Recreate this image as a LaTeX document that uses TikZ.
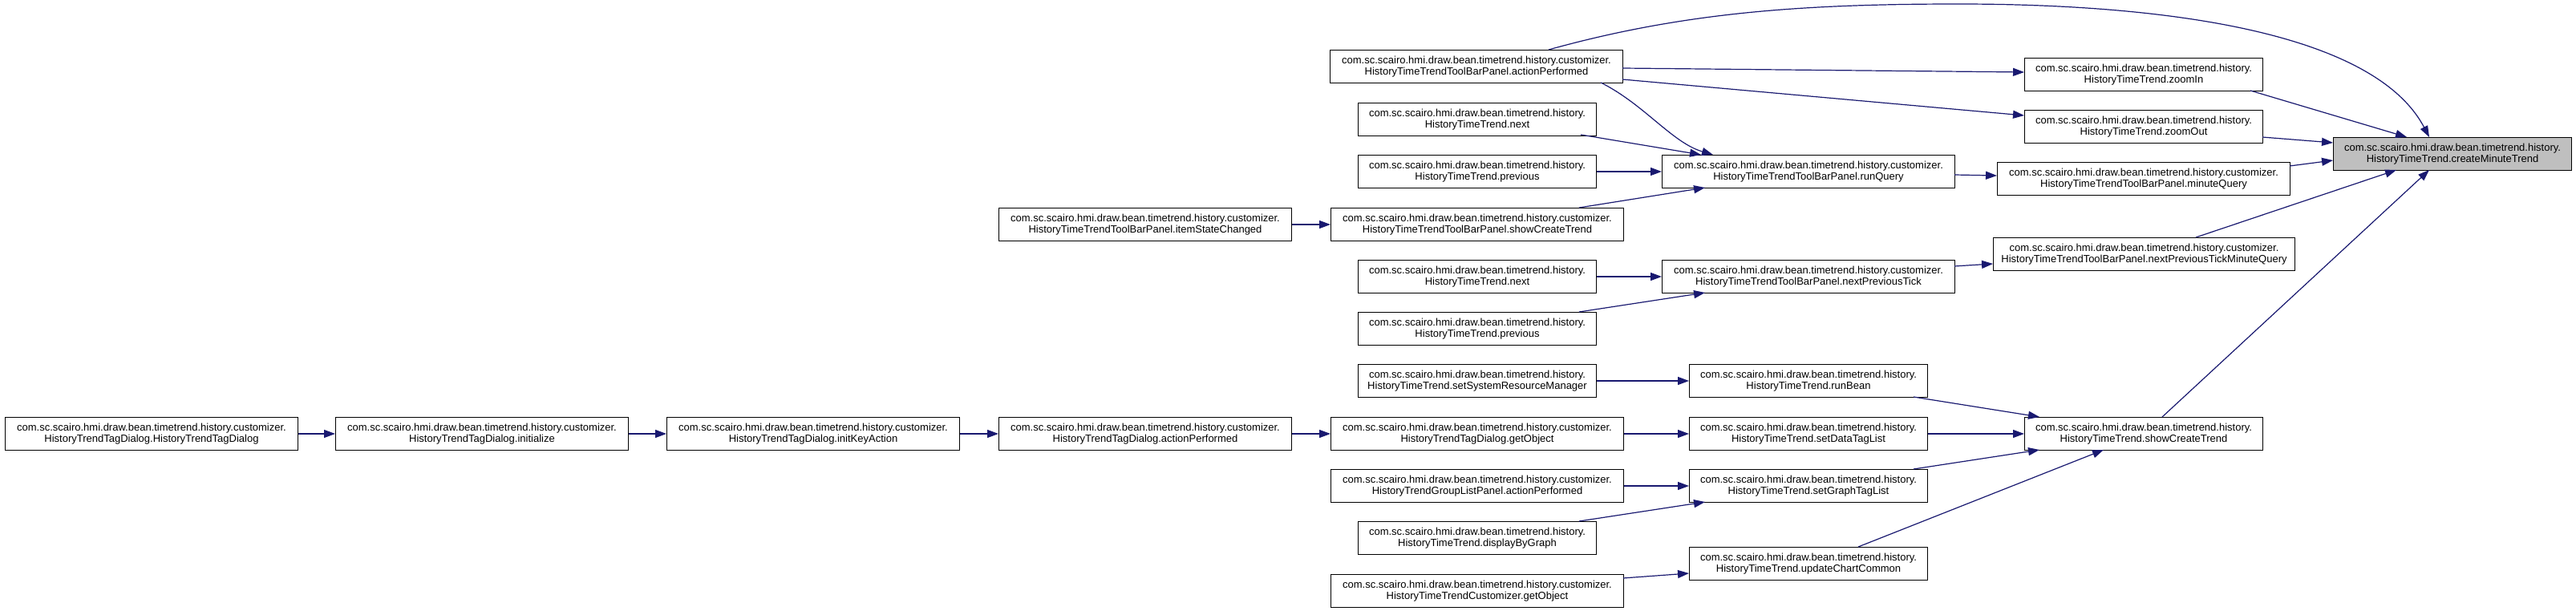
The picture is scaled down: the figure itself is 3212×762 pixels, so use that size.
\documentclass[tikz,border=0pt]{standalone}
\usepackage{fontspec}
\setmainfont{Liberation Sans}
\usetikzlibrary{arrows.meta,calc}
\definecolor{edgeblue}{HTML}{191970}
\definecolor{hlgrey}{HTML}{BFBFBF}
\newcommand\hpre{com.sc.scairo.hmi.draw.bean.timetrend.history.}
\newcommand\cpre{com.sc.scairo.hmi.draw.bean.timetrend.history.customizer.}
\begin{document}
\begin{tikzpicture}[x=1pt,y=-1pt,
  box/.style={draw=black, line width=1pt, fill=white, anchor=north west,
    minimum height=41pt, inner sep=0pt, align=center,
    font=\fontsize{13}{14}\selectfont},
  wa/.style={box, minimum width=297pt},
  wb/.style={box, minimum width=365pt},
  wc/.style={box, minimum width=376pt},
  edge/.style={draw=edgeblue, line width=1.2pt, -{Triangle[length=14pt,width=10pt]}}]
\useasboundingbox (0,0) rectangle (3212,762);
% nodes
\node[wa, fill=hlgrey] (cmt) at (2909,171) {\hpre\\HistoryTimeTrend.createMinuteTrend};
\node[wa] (zoomIn) at (2524,72) {\hpre\\HistoryTimeTrend.zoomIn};
\node[wa] (zoomOut) at (2524,137) {\hpre\\HistoryTimeTrend.zoomOut};
\node[wb] (minuteQuery) at (2490,202) {\cpre\\HistoryTimeTrendToolBarPanel.minuteQuery};
\node[wb] (tbpAct) at (1658,62) {\cpre\\HistoryTimeTrendToolBarPanel.actionPerformed};
\node[wa] (nextA) at (1693,128) {\hpre\\HistoryTimeTrend.next};
\node[wa] (prevA) at (1693,193) {\hpre\\HistoryTimeTrend.previous};
\node[wb] (runQuery) at (2072,193) {\cpre\\HistoryTimeTrendToolBarPanel.runQuery};
\node[wb] (showTBP) at (1659,259) {\cpre\\HistoryTimeTrendToolBarPanel.showCreateTrend};
\node[wb] (itemState) at (1245,259) {\cpre\\HistoryTimeTrendToolBarPanel.itemStateChanged};
\node[wc] (npTickMQ) at (2485,296) {\cpre\\HistoryTimeTrendToolBarPanel.nextPreviousTickMinuteQuery};
\node[wa] (nextB) at (1693,324) {\hpre\\HistoryTimeTrend.next};
\node[wb] (npTick) at (2072,324) {\cpre\\HistoryTimeTrendToolBarPanel.nextPreviousTick};
\node[wa] (prevB) at (1693,389) {\hpre\\HistoryTimeTrend.previous};
\node[wa] (setSys) at (1693,454) {\hpre\\HistoryTimeTrend.setSystemResourceManager};
\node[wa] (runBean) at (2106,454) {\hpre\\HistoryTimeTrend.runBean};
\node[wb] (getObjDlg) at (1659,520) {\cpre\\HistoryTrendTagDialog.getObject};
\node[wa] (setData) at (2106,520) {\hpre\\HistoryTimeTrend.setDataTagList};
\node[wa] (showHTT) at (2524,520) {\hpre\\HistoryTimeTrend.showCreateTrend};
\node[wb] (groupList) at (1659,585) {\cpre\\HistoryTrendGroupListPanel.actionPerformed};
\node[wa] (setGraph) at (2106,585) {\hpre\\HistoryTimeTrend.setGraphTagList};
\node[wa] (dispGraph) at (1693,650) {\hpre\\HistoryTimeTrend.displayByGraph};
\node[wa] (updChart) at (2106,682) {\hpre\\HistoryTimeTrend.updateChartCommon};
\node[wb] (custGet) at (1659,716) {\cpre\\HistoryTimeTrendCustomizer.getObject};
\node[wb] (ctor) at (6,520) {\cpre\\HistoryTrendTagDialog.HistoryTrendTagDialog};
\node[wb] (init) at (418,520) {\cpre\\HistoryTrendTagDialog.initialize};
\node[wb] (initKey) at (831,520) {\cpre\\HistoryTrendTagDialog.initKeyAction};
\node[wb] (actDlg) at (1245,520) {\cpre\\HistoryTrendTagDialog.actionPerformed};
% edges
\draw[edge] ($(tbpAct.north west)+(273,0)$) .. controls (2100,15) and (2250,5) .. (2442,5)
  .. controls (2700,5) and (2960,40) .. ($(cmt.north west)+(120,0)$);
\draw[edge] ($(tbpAct.north west)+(365,23)$) -- ($(zoomIn.north west)+(0,18)$);
\draw[edge] ($(tbpAct.north west)+(365,37)$) -- ($(zoomOut.north west)+(0,7)$);
\draw[edge] ($(tbpAct.north west)+(338,41)$) .. controls (2050,130) and (2085,178) .. ($(runQuery.north west)+(64,0)$);
\draw[edge] ($(nextA.north west)+(278,40)$) -- ($(runQuery.north west)+(49,0)$);
\draw[edge] (prevA.east) -- (runQuery.west);
\draw[edge] ($(showTBP.north west)+(310,0)$) -- ($(runQuery.north west)+(54,41)$);
\draw[edge] ($(zoomIn.north west)+(282,41)$) -- ($(cmt.north west)+(92,0)$);
\draw[edge] ($(zoomOut.north west)+(297,34)$) -- ($(cmt.north west)+(0,7)$);
\draw[edge] ($(runQuery.north west)+(365,25)$) -- ($(minuteQuery.north west)+(0,17)$);
\draw[edge] ($(minuteQuery.north west)+(365,5)$) -- ($(cmt.north west)+(0,29)$);
\draw[edge] ($(npTickMQ.north west)+(253,0)$) -- ($(cmt.north west)+(79,41)$);
\draw[edge] ($(showHTT.north west)+(172,0)$) -- ($(cmt.north west)+(120,41)$);
\draw[edge] (itemState.east) -- (showTBP.west);
\draw[edge] (nextB.east) -- (npTick.west);
\draw[edge] ($(prevB.north west)+(276,0)$) -- ($(npTick.north west)+(54,41)$);
\draw[edge] ($(npTick.north west)+(365,8)$) -- ($(npTickMQ.north west)+(0,33)$);
\draw[edge] (setSys.east) -- (runBean.west);
\draw[edge] ($(runBean.north west)+(280,41)$) -- ($(showHTT.north west)+(19,0)$);
\draw[edge] (getObjDlg.east) -- (setData.west);
\draw[edge] (setData.east) -- (showHTT.west);
\draw[edge] (groupList.east) -- (setGraph.west);
\draw[edge] ($(dispGraph.north west)+(276,0)$) -- ($(setGraph.north west)+(20,41)$);
\draw[edge] ($(setGraph.north west)+(280,0)$) -- ($(showHTT.north west)+(19,41)$);
\draw[edge] ($(updChart.north west)+(211,0)$) -- ($(showHTT.north west)+(99,41)$);
\draw[edge] ($(custGet.north west)+(365,5)$) -- ($(updChart.north west)+(0,33)$);
\draw[edge] (ctor.east) -- (init.west);
\draw[edge] (init.east) -- (initKey.west);
\draw[edge] (initKey.east) -- (actDlg.west);
\draw[edge] (actDlg.east) -- (getObjDlg.west);
\end{tikzpicture}
\end{document}
